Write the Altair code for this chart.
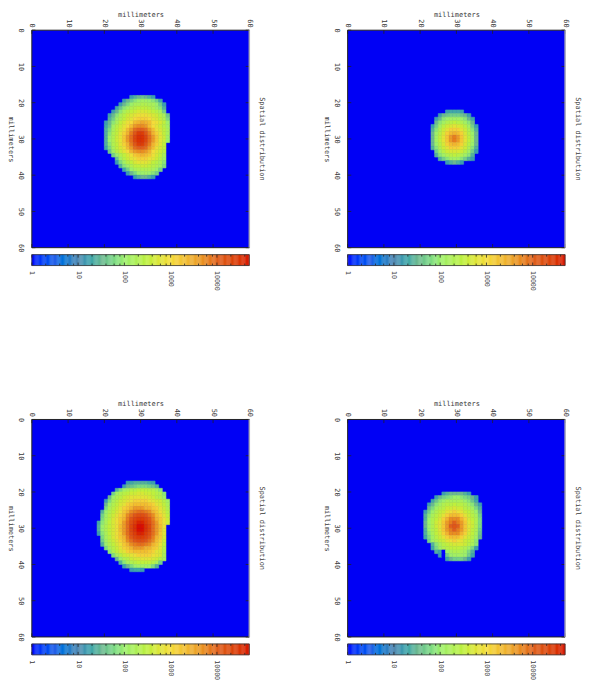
import altair as alt
import numpy as np
import pandas as pd

# Each row: [y in mm, first x in mm, levels]; level = 10*log10(counts)
PANEL_A = [
    [18, 27, [12,14,15,16,15,14,12]],
    [19, 25, [12,15,17,19,20,21,21,20,19,17,13]],
    [20, 24, [12,15,18,20,22,22,23,23,22,22,20,17,12]],
    [21, 23, [13,16,19,21,23,24,25,25,25,24,23,21,19,14]],
    [22, 22, [12,15,19,22,24,25,26,27,27,27,26,25,24,22,17]],
    [23, 21, [12,15,19,22,24,26,27,28,29,29,29,28,27,26,24,22,16]],
    [24, 21, [14,17,21,23,25,27,28,30,31,31,31,30,28,27,25,23,18]],
    [25, 20, [12,15,19,22,25,27,29,30,33,34,35,34,33,30,29,27,25,20]],
    [26, 20, [13,16,21,24,26,28,30,33,36,37,37,36,33,30,28,26,24,21]],
    [27, 20, [14,18,22,25,27,29,33,36,39,40,40,39,36,33,29,27,25,22]],
    [28, 20, [14,19,23,25,28,31,34,38,41,44,44,41,38,34,31,28,25,22]],
    [29, 20, [14,20,23,26,28,32,36,39,43,45,45,43,39,36,32,28,26,21]],
    [30, 20, [14,20,23,26,28,32,36,39,43,45,45,43,39,36,32,28,26,20]],
    [31, 20, [14,19,23,25,28,31,34,38,41,44,44,41,38,34,31,28,25]],
    [32, 20, [13,18,22,25,27,29,33,36,39,40,40,39,36,33,29,27,25]],
    [33, 21, [16,21,24,26,28,30,34,36,37,37,36,34,30,28,26,24]],
    [34, 22, [17,20,23,25,27,29,32,33,34,33,32,29,27,25,22]],
    [35, 23, [16,21,24,26,28,29,31,31,31,29,28,26,24,21]],
    [36, 23, [12,18,21,24,25,27,28,28,28,27,25,24,22,19]],
    [37, 24, [14,19,21,23,25,25,26,26,25,24,23,21,18]],
    [38, 25, [13,17,20,22,23,23,23,23,22,20,17]],
    [39, 26, [12,15,18,20,20,21,20,19,17]],
    [40, 28, [12,14,15,15,14,12]],
]
PANEL_B = [
    [22, 27, [12,13,13,13,12]],
    [23, 25, [12,15,16,17,17,17,16,15,12]],
    [24, 24, [12,15,19,20,21,21,21,20,19,15,13]],
    [25, 24, [15,19,21,23,24,25,24,23,21,19,15]],
    [26, 23, [12,17,21,24,26,27,28,27,26,24,21,17,12]],
    [27, 23, [14,19,23,26,28,31,31,31,28,26,23,19,14]],
    [28, 23, [15,20,24,27,31,33,34,33,31,27,24,20,15]],
    [29, 23, [15,21,25,28,32,36,38,36,32,28,25,21,15]],
    [30, 23, [15,21,25,28,32,36,38,36,32,28,25,21,15]],
    [31, 23, [15,20,24,27,31,33,34,33,31,27,24,20,15]],
    [32, 23, [14,19,23,26,28,31,31,31,28,26,23,19,14]],
    [33, 24, [17,21,24,26,27,27,27,26,24,21,17,12]],
    [34, 24, [14,19,21,23,24,25,24,23,21,19,14]],
    [35, 25, [14,17,19,21,21,21,19,17,14,12]],
    [36, 27, [12,14,15,14,12]],
]
PANEL_C = [
    [17, 26, [12,13,14,14,14,14,13,12]],
    [18, 25, [12,15,16,17,18,18,18,17,16,14]],
    [19, 23, [14,18,21,22,24,24,25,25,25,24,24,22,19]],
    [20, 22, [17,21,23,24,25,26,26,27,27,26,26,25,24,23,19]],
    [21, 21, [15,20,23,24,26,27,28,28,28,28,28,27,26,24,23,20]],
    [22, 20, [12,18,22,24,26,27,28,29,31,31,31,31,29,28,27,26,24,21]],
    [23, 20, [15,20,23,25,27,28,31,32,33,33,33,33,32,31,28,27,25,22]],
    [24, 20, [18,22,24,26,28,31,32,34,36,36,36,34,34,32,31,28,26,23]],
    [25, 19, [14,20,23,25,27,29,32,34,37,38,39,39,38,37,34,32,29,27,24]],
    [26, 19, [17,21,24,26,28,31,33,37,39,41,42,42,41,39,37,33,31,28,25]],
    [27, 19, [18,22,24,27,29,32,34,38,41,43,44,44,43,41,38,34,32,29,26]],
    [28, 18, [13,19,22,25,27,29,32,36,39,42,44,46,46,44,42,39,36,32,29,26]],
    [29, 18, [14,20,23,25,27,29,33,36,39,43,45,47,47,45,43,39,36,33,29]],
    [30, 18, [14,20,23,25,27,29,33,36,39,43,45,47,47,45,43,39,36,33,28]],
    [31, 18, [12,19,22,25,27,29,32,36,39,42,44,46,46,44,42,39,36,32,28]],
    [32, 19, [18,22,24,27,29,32,34,38,41,43,44,44,43,41,38,34,32,27]],
    [33, 19, [17,21,24,26,28,31,33,37,39,41,42,42,41,39,37,33,31,26]],
    [34, 19, [14,20,23,25,27,29,32,34,37,38,39,39,38,37,34,32,29,25]],
    [35, 20, [18,22,24,26,28,31,32,34,36,36,36,34,34,32,31,28,24]],
    [36, 21, [19,23,25,27,28,31,32,33,33,33,33,32,31,28,27,23]],
    [37, 22, [18,22,24,26,27,28,29,31,31,31,31,29,28,27,22]],
    [38, 23, [15,20,23,24,26,27,27,28,28,28,27,26,24,22]],
    [39, 24, [14,19,22,23,24,25,25,25,25,24,22,17]],
    [40, 25, [12,15,18,20,21,21,21,20,18,14]],
    [41, 27, [12,13,13,12]],
]
PANEL_D = [
    [20, 26, [12,14,15,15,15,15,14,12]],
    [21, 24, [12,15,17,18,19,20,20,19,18,17,15,12]],
    [22, 23, [13,16,19,20,22,22,22,22,22,20,19,16,13]],
    [23, 22, [12,15,19,21,23,24,24,25,24,24,23,21,19,15,12]],
    [24, 22, [15,18,21,23,24,26,26,27,26,26,24,23,21,18,14]],
    [25, 21, [12,17,20,23,25,26,28,29,31,29,28,26,25,23,20,15]],
    [26, 21, [14,19,22,24,26,28,31,33,33,33,31,28,26,24,22,17]],
    [27, 21, [14,20,23,25,27,31,34,37,37,37,34,31,27,25,23,18]],
    [28, 21, [15,20,23,26,28,32,36,38,40,38,36,32,28,26,23,18]],
    [29, 21, [15,20,23,26,28,32,36,40,41,40,36,32,28,26,23,18]],
    [30, 21, [14,20,23,25,28,32,36,38,40,38,36,32,28,25,23,17]],
    [31, 21, [14,19,22,25,27,31,34,37,37,37,34,31,27,25,22,16]],
    [32, 21, [13,18,21,24,26,28,31,33,33,33,31,28,26,24,21,15]],
    [33, 22, [17,21,23,25,26,28,29,31,29,28,26,25,23,19]],
    [34, 23, [14,19,22,24,25,26,27,27,27,26,24,22,19]],
    [35, 23, [13,18,21,23,24,25,25,25,24,23,21,18,12]],
    [36, 24, [14,13,0,20,22,23,23,22,21,18,14]],
    [37, 25, [12,0,17,20,21,21,21,20,17,13]],
    [38, 27, [13,15,17,17,17,15,12]],
]

COLOR_LEVELS = [0, 5, 10, 15, 20, 25, 30, 35, 40, 47]
COLOR_RANGE = ["#0000ff", "#2560e8", "#5288b0", "#6cb890", "#9df06a",
               "#c0f03c", "#f5dc3a", "#edaa2e", "#e0601c", "#d81000"]
BAR_TICKS = [1, 10, 100, 1000, 10000]
BAR_MINOR = [2, 4, 6, 8, 20, 40, 60, 80, 200, 400, 600, 800,
             2000, 4000, 6000, 8000, 20000, 40000]
MM_TICKS = [0, 10, 20, 30, 40, 50, 60]
FONT = "DejaVu Sans Mono"
TXT = "#3a3a3a"
FS = 7
W = 219

color_scale = alt.Scale(domain=COLOR_LEVELS, range=COLOR_RANGE)


def heat(rows):
    recs = []
    for y, x0, levels in rows:
        for i, lv in enumerate(levels):
            recs.append({"x": x0 + i, "x2": x0 + i + 1, "y": y, "y2": y + 1, "level": lv})
    cells = pd.DataFrame(recs)
    xs = alt.Scale(domain=[0, 60], nice=False)
    ys = alt.Scale(domain=[0, 60], reverse=True, nice=False)
    ax_common = dict(values=MM_TICKS, grid=False, domain=False, ticks=False, title="millimeters",
                     labelFont=FONT, titleFont=FONT, labelFontSize=FS, titleFontSize=FS,
                     labelColor=TXT, titleColor=TXT, titleFontWeight="normal", labelAngle=90)
    xax = alt.Axis(orient="top", labelAlign="right", labelBaseline="middle",
                   labelPadding=3, titleY=-20, titleBaseline="top", **ax_common)
    yax = alt.Axis(orient="left", labelAlign="center", labelBaseline="middle",
                   labelPadding=11, titleAngle=90, titleX=-24, titleBaseline="bottom", **ax_common)
    bg = alt.Chart(pd.DataFrame({"a": [0], "b": [60]})).mark_rect(color="#0000f5").encode(
        x=alt.X("a:Q", scale=xs, axis=xax),
        x2="b:Q",
        y=alt.Y("a:Q", scale=ys, axis=yax),
        y2="b:Q",
    )
    rects = alt.Chart(cells).mark_rect(strokeWidth=0.6).encode(
        x=alt.X("x:Q", scale=xs, axis=xax), x2="x2:Q", y=alt.Y("y:Q", scale=ys, axis=yax), y2="y2:Q",
        color=alt.Color("level:Q", scale=color_scale, legend=None),
        stroke=alt.Stroke("level:Q", scale=color_scale, legend=None),
    )
    t = pd.DataFrame({"t": MM_TICKS, "a0": 0, "a1": 1, "b0": 59, "b1": 60})
    layers = [bg, rects]
    for lo, hi in [("a0", "a1"), ("b0", "b1")]:
        layers.append(alt.Chart(t).mark_rule(color="#222", strokeWidth=0.8).encode(
            x=alt.X("t:Q", scale=xs, axis=xax), y=alt.Y(f"{lo}:Q", scale=ys, axis=yax), y2=f"{hi}:Q"))
        layers.append(alt.Chart(t).mark_rule(color="#222", strokeWidth=0.8).encode(
            y=alt.Y("t:Q", scale=ys, axis=yax), x=alt.X(f"{lo}:Q", scale=xs, axis=xax), x2=f"{hi}:Q"))
    frame = pd.DataFrame({"a": [0, 60], "b": [60, 60], "z": [0, 0]})
    layers.append(alt.Chart(frame).mark_rule(color="#222", strokeWidth=1).encode(
        x=alt.X("z:Q", scale=xs, axis=xax), x2="b:Q", y=alt.Y("a:Q", scale=ys, axis=yax)))
    edge = pd.DataFrame({"z": [0], "b": [60]})
    layers.append(alt.Chart(edge).mark_rule(color="#222", strokeWidth=1).encode(
        x=alt.X("z:Q", scale=xs, axis=xax), y=alt.Y("z:Q", scale=ys, axis=yax), y2="b:Q"))
    layers.append(alt.Chart(edge).mark_rule(color="#a8a8b8", strokeWidth=1.5).encode(
        x=alt.X("b:Q", scale=xs, axis=xax), y=alt.Y("z:Q", scale=ys, axis=yax), y2="b:Q"))
    return alt.layer(*layers).properties(
        width=W, height=W,
        title=alt.TitleParams("Spatial distribution", orient="right", anchor="middle", angle=90,
                              font=FONT, fontSize=FS, color=TXT, fontWeight="normal", offset=6),
    )


def colorbar():
    lv = np.arange(0, 47, 0.25)
    bar = pd.DataFrame({"level": lv, "a": 10 ** (lv / 10), "b": 10 ** ((lv + 0.25) / 10)})
    xs = alt.Scale(type="log", domain=[1, 10 ** 4.7], nice=False)
    xax = alt.Axis(orient="bottom", values=BAR_TICKS, format="d", grid=False, domain=False, ticks=False, title=None,
                   labelAngle=90, labelAlign="left", labelBaseline="middle", labelPadding=5,
                   labelFont=FONT, labelFontSize=6.6, labelColor=TXT, labelFlush=False, labelOverlap=False)
    rects = alt.Chart(bar).mark_rect(strokeWidth=0.3).encode(
        x=alt.X("a:Q", scale=xs, axis=xax),
        x2="b:Q",
        y=alt.value(0), y2=alt.value(11),
        color=alt.Color("level:Q", scale=color_scale, legend=None),
        stroke=alt.Stroke("level:Q", scale=color_scale, legend=None),
    )
    layers = [rects]
    for vals, lens in [(BAR_TICKS, 3), (BAR_MINOR, 2)]:
        d = pd.DataFrame({"v": vals})
        layers.append(alt.Chart(d).mark_rule(color="#222", strokeWidth=0.8).encode(
            x=alt.X("v:Q", scale=xs, axis=xax), y=alt.value(0), y2=alt.value(lens)))
        layers.append(alt.Chart(d).mark_rule(color="#222", strokeWidth=0.8).encode(
            x=alt.X("v:Q", scale=xs, axis=xax), y=alt.value(11 - lens), y2=alt.value(11)))
    box = pd.DataFrame({"a": [1], "b": [10 ** 4.7]})
    layers.append(alt.Chart(box).mark_rect(fillOpacity=0, stroke="#333", strokeWidth=0.8).encode(
        x=alt.X("a:Q", scale=xs, axis=xax), x2="b:Q", y=alt.value(0), y2=alt.value(11)))
    return alt.layer(*layers).properties(width=W, height=11)


def panel(rows):
    return alt.vconcat(heat(rows), colorbar(), spacing=1)


chart = alt.vconcat(
    alt.hconcat(panel(PANEL_A), panel(PANEL_B), spacing=58),
    alt.hconcat(panel(PANEL_C), panel(PANEL_D), spacing=58),
    spacing=110,
).properties(padding={"left": 0, "top": 0, "right": 0, "bottom": 0}, background="white"
).configure_view(stroke=None).resolve_scale(color="shared")

chart.save("out.html", embed_options={"renderer": "svg", "actions": False})
